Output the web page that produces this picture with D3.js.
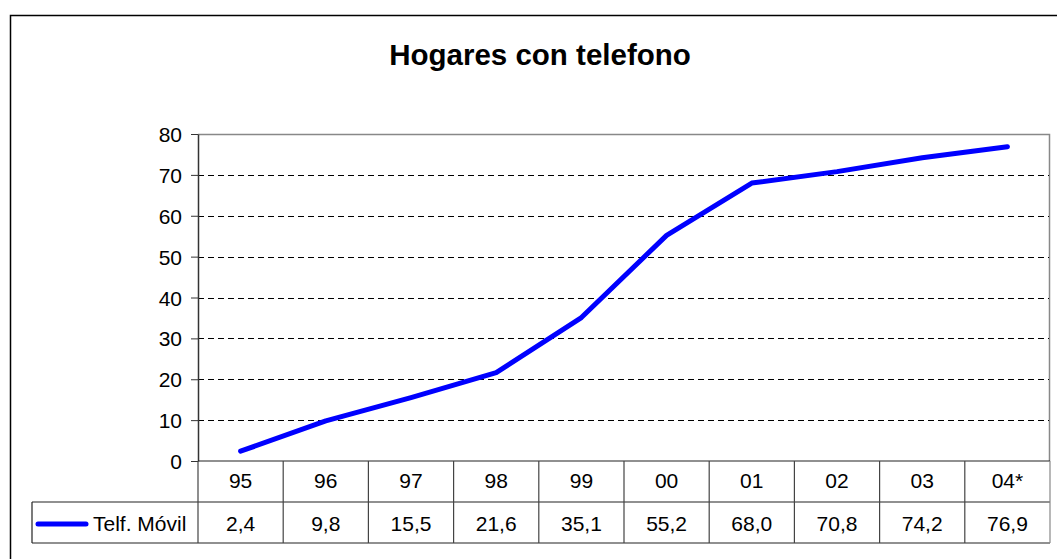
<!DOCTYPE html>
<html>
<head>
<meta charset="utf-8">
<script src="https://cdn.jsdelivr.net/npm/d3@7"></script>
<style>
  body { margin: 0; background: #fff; }
  svg text { font-family: "Liberation Sans", Arial, sans-serif; fill: #000; }
</style>
</head>
<body>
<div id="chart"></div>
<script>
// data
const years = ["95", "96", "97", "98", "99", "00", "01", "02", "03", "04*"];
const movil = [2.4, 9.8, 15.5, 21.6, 35.1, 55.2, 68.0, 70.8, 74.2, 76.9];
const yTicks = [0, 10, 20, 30, 40, 50, 60, 70, 80];
const seriesName = "Telf. Móvil";
const title = "Hogares con telefono";

const width = 1057, height = 559;
const plotLeft = 198, plotRight = 1050, plotTop = 134, plotBottom = 461;
const rowH = 41, legendLeft = 32;

const es = d3.formatLocale({decimal: ",", thousands: ".", grouping: [3], currency: ["", "€"]});
const fmt = es.format(".1f");

const svg = d3.select("#chart").append("svg")
    .attr("width", width)
    .attr("height", height);

// outer frame (runs off the picture on right and bottom)
svg.append("rect")
    .attr("x", 10.5).attr("y", 15.5)
    .attr("width", 1100).attr("height", 600)
    .attr("fill", "none").attr("stroke", "#000").attr("stroke-width", 1.5);

svg.append("text")
    .attr("x", 540).attr("y", 65)
    .attr("text-anchor", "middle")
    .style("font-size", "29.5px").style("font-weight", "bold")
    .text(title);

const x = d3.scaleBand().domain(years).range([plotLeft, plotRight]);
const y = d3.scaleLinear().domain([0, 80]).range([plotBottom, plotTop]);

// plot border (gray top/right)
svg.append("path")
    .attr("d", `M${plotLeft},${y(80) + 0.5}H${plotRight - 0.5}V${plotBottom}`)
    .attr("fill", "none").attr("stroke", "#888").attr("stroke-width", 1.5);

// dashed gridlines
svg.append("g").selectAll("line")
    .data(yTicks.filter(d => d > 0 && d < 80))
    .join("line")
    .attr("x1", plotLeft).attr("x2", plotRight - 1)
    .attr("y1", d => Math.round(y(d)) + 0.5).attr("y2", d => Math.round(y(d)) + 0.5)
    .attr("stroke", "#000").attr("stroke-width", 1.1).attr("stroke-dasharray", "6,4");

// y axis
const yAxis = svg.append("g")
    .attr("transform", `translate(${plotLeft},0)`)
    .call(d3.axisLeft(y).tickValues(yTicks).tickSize(7).tickPadding(9).tickSizeOuter(0));
yAxis.select(".domain").attr("stroke", "#333").attr("stroke-width", 1.5);
yAxis.selectAll(".tick line").attr("stroke", "#333");
yAxis.selectAll(".tick text")
    .style("font-size", "21px")
    .style("font-family", "'Liberation Sans', Arial, sans-serif")
    .attr("dy", "0.36em");

// data table
const tableTop = plotBottom, tableMid = plotBottom + rowH, tableBottom = plotBottom + 2 * rowH;
const grid = svg.append("g").attr("stroke", "#222").attr("stroke-width", 1.2);
grid.append("line").attr("x1", plotLeft).attr("x2", plotRight).attr("y1", tableTop).attr("y2", tableTop);
grid.append("line").attr("x1", legendLeft).attr("x2", plotRight).attr("y1", tableMid).attr("y2", tableMid);
grid.append("line").attr("x1", legendLeft).attr("x2", plotRight).attr("y1", tableBottom).attr("y2", tableBottom);
grid.append("line").attr("x1", legendLeft).attr("x2", legendLeft).attr("y1", tableMid).attr("y2", tableBottom);
grid.selectAll("line.col")
    .data(years.map(d => x(d)).concat([plotRight]))
    .join("line").attr("class", "col")
    .attr("x1", d => d).attr("x2", d => d)
    .attr("y1", tableTop).attr("y2", tableBottom)
    .attr("stroke", d => d === plotRight ? "#888" : "#444");

svg.append("g").selectAll("text")
    .data(years)
    .join("text")
    .attr("x", d => x(d) + x.bandwidth() / 2)
    .attr("y", tableTop + 27)
    .attr("text-anchor", "middle")
    .style("font-size", "21px")
    .text(d => d);

svg.append("g").selectAll("text")
    .data(movil)
    .join("text")
    .attr("x", (d, i) => x(years[i]) + x.bandwidth() / 2)
    .attr("y", tableMid + 29)
    .attr("text-anchor", "middle")
    .style("font-size", "21px")
    .text(d => fmt(d));

// legend key in table
svg.append("line")
    .attr("x1", 38).attr("x2", 86)
    .attr("y1", tableMid + 22).attr("y2", tableMid + 22)
    .attr("stroke", "#0000ff").attr("stroke-width", 5).attr("stroke-linecap", "round");
svg.append("text")
    .attr("x", 93).attr("y", tableMid + 29)
    .style("font-size", "21px")
    .text(seriesName);

// series line
const line = d3.line()
    .x((d, i) => x(years[i]) + x.bandwidth() / 2)
    .y(d => y(d));
svg.append("path")
    .datum(movil)
    .attr("d", line)
    .attr("fill", "none")
    .attr("stroke", "#0000ff")
    .attr("stroke-width", 5)
    .attr("stroke-linecap", "round")
    .attr("stroke-linejoin", "round");
</script>
</body>
</html>
